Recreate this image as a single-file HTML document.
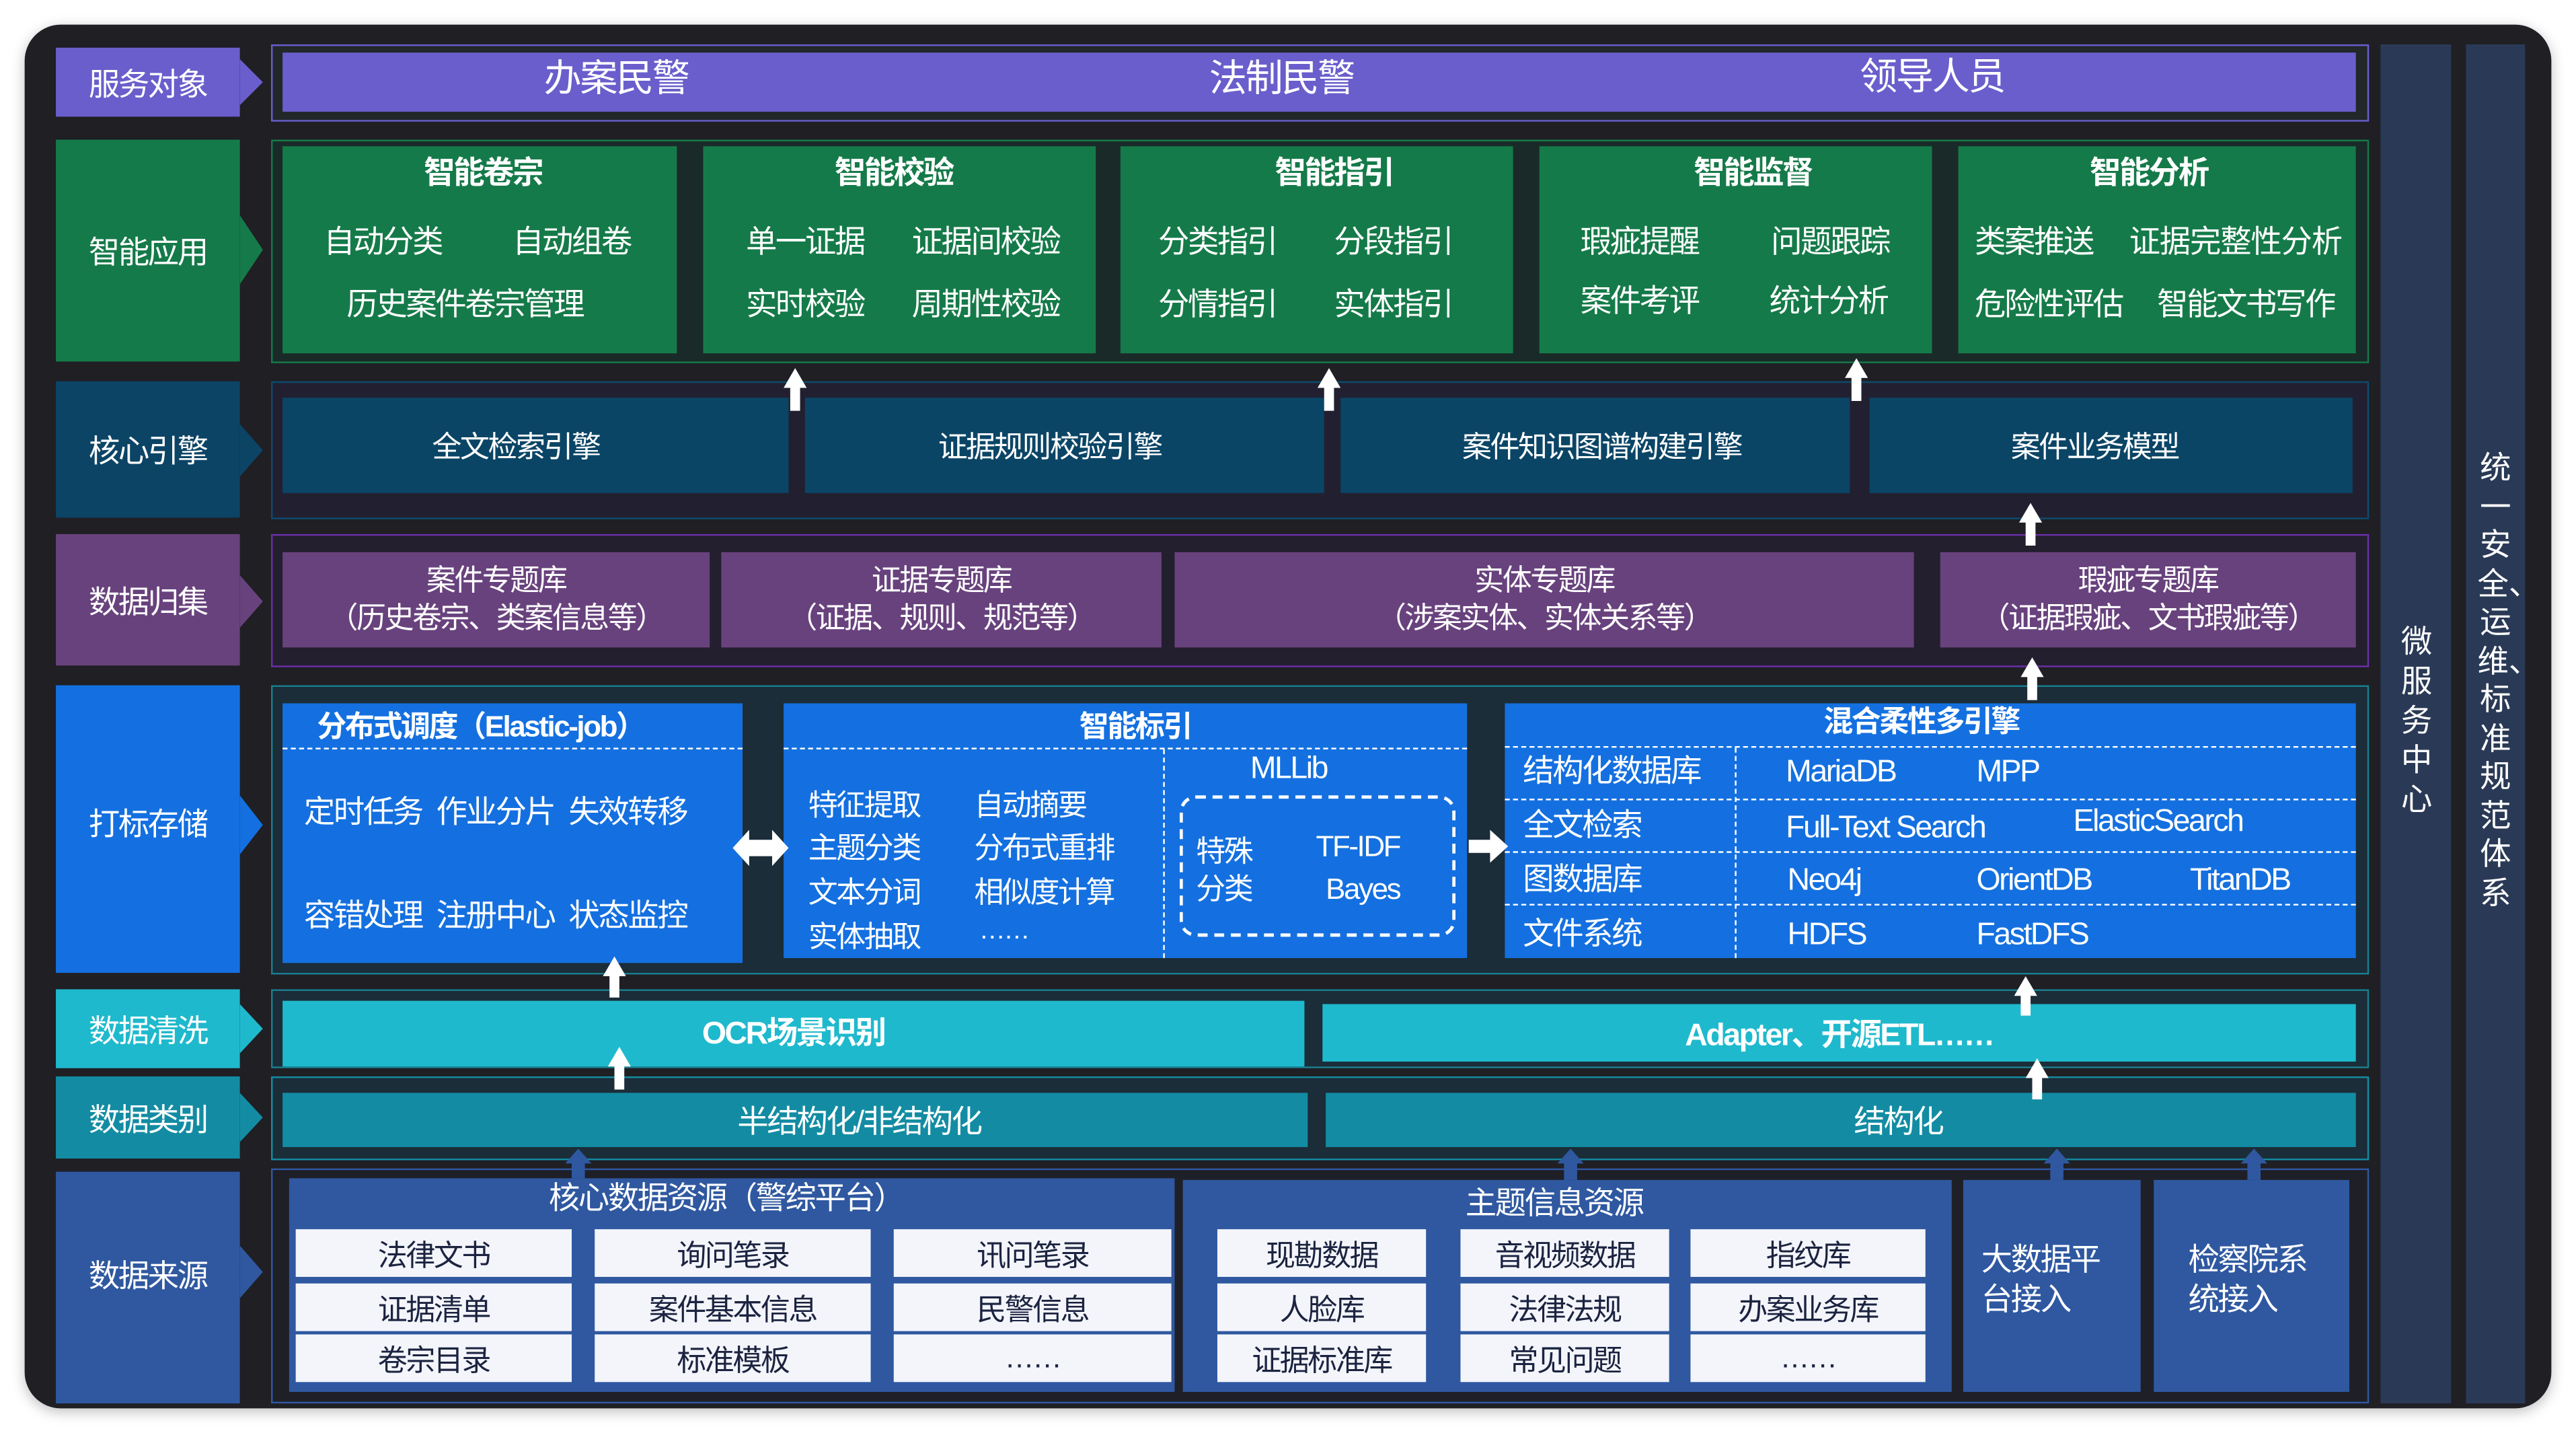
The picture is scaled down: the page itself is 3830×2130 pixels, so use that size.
<!DOCTYPE html>
<html><head><meta charset="utf-8">
<style>
*{margin:0;padding:0;box-sizing:border-box}
html,body{width:3830px;height:2130px;overflow:hidden;background:#fff}
#s{position:absolute;left:0;top:0;width:1568px;height:872px;transform:scale(2.44260,2.44266);transform-origin:0 0;font-family:"Liberation Sans","Noto Sans CJK SC",sans-serif;color:#fff}
.a{position:absolute}
.c{position:absolute;display:flex;align-items:center;justify-content:center;text-align:center;white-space:nowrap;letter-spacing:-1px}
.t{position:absolute;white-space:nowrap;letter-spacing:-1px;line-height:1;transform:translateY(-50%)}
.b{font-weight:bold}
.w{background:#f3f5fa;color:#1b2340;font-size:18px}
</style></head><body><div id="s">
<div class="a" style="left:15px;top:15px;width:1538px;height:842px;background:#1f1f24;border-radius:22px;box-shadow:0 2px 8px rgba(0,0,0,.25)"></div>

<!-- left labels -->
<div class="c" style="left:34px;top:29px;width:112px;height:42px;background:#6a5ecc;font-size:19px">服务对象</div>
<div class="a" style="left:146px;top:36px;width:14px;height:28px;background:#6a5ecc;clip-path:polygon(0 0,100% 50%,0 100%)"></div>
<div class="c" style="left:34px;top:85px;width:112px;height:135px;background:#157a49;font-size:19px">智能应用</div>
<div class="a" style="left:146px;top:131px;width:14px;height:42px;background:#157a49;clip-path:polygon(0 0,100% 50%,0 100%)"></div>
<div class="c" style="left:34px;top:232px;width:112px;height:83px;background:#0c4466;font-size:19px">核心引擎</div>
<div class="a" style="left:146px;top:258px;width:14px;height:32px;background:#0c4466;clip-path:polygon(0 0,100% 50%,0 100%)"></div>
<div class="c" style="left:34px;top:325px;width:112px;height:80px;background:#68427d;font-size:19px">数据归集</div>
<div class="a" style="left:146px;top:350px;width:14px;height:32px;background:#68427d;clip-path:polygon(0 0,100% 50%,0 100%)"></div>
<div class="c" style="left:34px;top:417px;width:112px;height:175px;background:#1470e0;font-size:19px;padding-bottom:8px">打标存储</div>
<div class="a" style="left:146px;top:484px;width:14px;height:36px;background:#1470e0;clip-path:polygon(0 0,100% 50%,0 100%)"></div>
<div class="c" style="left:34px;top:602px;width:112px;height:48px;background:#1fb9cd;font-size:19px">数据清洗</div>
<div class="a" style="left:146px;top:611px;width:14px;height:30px;background:#1fb9cd;clip-path:polygon(0 0,100% 50%,0 100%)"></div>
<div class="c" style="left:34px;top:655px;width:112px;height:50px;background:#138ca3;font-size:19px">数据类别</div>
<div class="a" style="left:146px;top:665px;width:14px;height:30px;background:#138ca3;clip-path:polygon(0 0,100% 50%,0 100%)"></div>
<div class="c" style="left:34px;top:713px;width:112px;height:141px;background:#2f58a0;font-size:19px;padding-bottom:16px">数据来源</div>
<div class="a" style="left:146px;top:758px;width:14px;height:32px;background:#2f58a0;clip-path:polygon(0 0,100% 50%,0 100%)"></div>

<!-- right columns -->
<div class="a" style="left:1449px;top:27px;width:43px;height:827px;background:#2a3a56"></div>
<div class="a" style="left:1501px;top:27px;width:36px;height:827px;background:#2a3a56"></div>
<div class="a" style="left:1460px;top:380px;width:22px;font-size:19px;line-height:24px;text-align:center">微服务中心</div>
<div class="a" style="left:1508px;top:274px;width:22px;font-size:19px;line-height:23.5px;text-align:center">统一安全、运维、标准规范体系</div>

<!-- row1 -->
<div class="a" style="left:165px;top:27px;width:1277px;height:47px;border:1.5px solid #6a5ecc;background:#22272a"></div>
<div class="a" style="left:172px;top:32px;width:1262px;height:36px;background:#6a5ecc"></div>
<div class="t" style="left:331px;top:48px;font-size:23px">办案民警</div>
<div class="t" style="left:736px;top:48px;font-size:23px">法制民警</div>
<div class="t" style="left:1132px;top:47px;font-size:23px">领导人员</div>

<!-- row2 -->
<div class="a" style="left:165px;top:85px;width:1277px;height:136px;border:1.5px solid #157a49;background:#1a2a28"></div>
<div class="a" style="left:172px;top:89px;width:240px;height:126px;background:#157a49"></div>
<div class="a" style="left:428px;top:89px;width:239px;height:126px;background:#157a49"></div>
<div class="a" style="left:682px;top:89px;width:239px;height:126px;background:#157a49"></div>
<div class="a" style="left:937px;top:89px;width:239px;height:126px;background:#157a49"></div>
<div class="a" style="left:1192px;top:89px;width:242px;height:126px;background:#157a49"></div>
<div class="t b" style="left:258px;top:106px;font-size:19px">智能卷宗</div>
<div class="t" style="left:197px;top:148px;font-size:19px">自动分类</div>
<div class="t" style="left:312px;top:148px;font-size:19px">自动组卷</div>
<div class="t" style="left:211px;top:186px;font-size:19px">历史案件卷宗管理</div>
<div class="t b" style="left:508px;top:106px;font-size:19px">智能校验</div>
<div class="t" style="left:454px;top:148px;font-size:19px">单一证据</div>
<div class="t" style="left:555px;top:148px;font-size:19px">证据间校验</div>
<div class="t" style="left:454px;top:186px;font-size:19px">实时校验</div>
<div class="t" style="left:555px;top:186px;font-size:19px">周期性校验</div>
<div class="t b" style="left:776px;top:106px;font-size:19px">智能指引</div>
<div class="t" style="left:705px;top:148px;font-size:19px">分类指引</div>
<div class="t" style="left:812px;top:148px;font-size:19px">分段指引</div>
<div class="t" style="left:705px;top:186px;font-size:19px">分情指引</div>
<div class="t" style="left:812px;top:186px;font-size:19px">实体指引</div>
<div class="t b" style="left:1031px;top:106px;font-size:19px">智能监督</div>
<div class="t" style="left:962px;top:148px;font-size:19px">瑕疵提醒</div>
<div class="t" style="left:1078px;top:148px;font-size:19px">问题跟踪</div>
<div class="t" style="left:962px;top:184px;font-size:19px">案件考评</div>
<div class="t" style="left:1077px;top:184px;font-size:19px">统计分析</div>
<div class="t b" style="left:1272px;top:106px;font-size:19px">智能分析</div>
<div class="t" style="left:1202px;top:148px;font-size:19px">类案推送</div>
<div class="t" style="left:1296px;top:148px;font-size:19px;letter-spacing:-0.5px">证据完整性分析</div>
<div class="t" style="left:1202px;top:186px;font-size:19px">危险性评估</div>
<div class="t" style="left:1313px;top:186px;font-size:19px">智能文书写作</div>

<!-- row3 -->
<div class="a" style="left:165px;top:232px;width:1277px;height:84px;border:1.5px solid #0f4a6e;background:#222030"></div>
<div class="c" style="left:172px;top:242px;width:308px;height:58px;background:#0b4566;font-size:18px;padding-right:24px">全文检索引擎</div>
<div class="c" style="left:490px;top:242px;width:316px;height:58px;background:#0b4566;font-size:18px;padding-right:18px">证据规则校验引擎</div>
<div class="c" style="left:816px;top:242px;width:310px;height:58px;background:#0b4566;font-size:18px;padding-left:8px">案件知识图谱构建引擎</div>
<div class="c" style="left:1138px;top:242px;width:294px;height:58px;background:#0b4566;font-size:18px;padding-right:20px">案件业务模型</div>

<!-- row4 -->
<div class="a" style="left:165px;top:325px;width:1277px;height:81px;border:1.5px solid #6a30a8;background:#231f2e"></div>
<div class="c" style="left:172px;top:336px;width:260px;height:58px;background:#68427d;font-size:18px;line-height:23px">案件专题库<br>（历史卷宗、类案信息等）</div>
<div class="c" style="left:439px;top:336px;width:268px;height:58px;background:#68427d;font-size:18px;line-height:23px">证据专题库<br>（证据、规则、规范等）</div>
<div class="c" style="left:715px;top:336px;width:450px;height:58px;background:#68427d;font-size:18px;line-height:23px">实体专题库<br>（涉案实体、实体关系等）</div>
<div class="c" style="left:1181px;top:336px;width:253px;height:58px;background:#68427d;font-size:18px;line-height:23px">瑕疵专题库<br>（证据瑕疵、文书瑕疵等）</div>

<!-- row5 -->
<div class="a" style="left:165px;top:417px;width:1277px;height:176px;border:1.5px solid #1a7f90;background:#1b2d38"></div>
<div class="a" style="left:172px;top:428px;width:280px;height:158px;background:#1470e0"></div>
<div class="a" style="left:477px;top:428px;width:416px;height:155px;background:#1470e0"></div>
<div class="a" style="left:916px;top:428px;width:518px;height:155px;background:#1470e0"></div>
<div class="a" style="left:172px;top:455px;width:280px;border-top:1.5px dashed #fff"></div>
<div class="a" style="left:477px;top:455px;width:416px;border-top:1.5px dashed #fff"></div>
<div class="a" style="left:708px;top:456px;height:127px;border-left:1px dashed #fff"></div>
<div class="a" style="left:718px;top:484px;width:168px;height:86px;border:2px dashed #fff;border-radius:10px"></div>
<div class="t b" style="left:193px;top:442px;font-size:18px">分布式调度（Elastic-job）</div>
<div class="t" style="left:185px;top:495px;font-size:19px">定时任务&nbsp; 作业分片&nbsp; 失效转移</div>
<div class="t" style="left:185px;top:558px;font-size:19px">容错处理&nbsp; 注册中心&nbsp; 状态监控</div>
<div class="t b" style="left:657px;top:442px;font-size:18px">智能标引</div>
<div class="t" style="left:492px;top:490px;font-size:18px">特征提取</div>
<div class="t" style="left:593px;top:490px;font-size:18px">自动摘要</div>
<div class="t" style="left:492px;top:516px;font-size:18px">主题分类</div>
<div class="t" style="left:593px;top:516px;font-size:18px">分布式重排</div>
<div class="t" style="left:492px;top:543px;font-size:18px">文本分词</div>
<div class="t" style="left:593px;top:543px;font-size:18px">相似度计算</div>
<div class="t" style="left:492px;top:570px;font-size:18px">实体抽取</div>
<div class="t" style="left:596px;top:567px;font-size:16px">……</div>
<div class="t" style="left:761px;top:468px;font-size:19px">MLLib</div>
<div class="t" style="left:728px;top:518px;font-size:18px">特殊</div>
<div class="t" style="left:728px;top:541px;font-size:18px">分类</div>
<div class="t" style="left:801px;top:515px;font-size:18px">TF-IDF</div>
<div class="t" style="left:807px;top:541px;font-size:18px">Bayes</div>
<div class="t b" style="left:1110px;top:439px;font-size:18px">混合柔性多引擎</div>
<div class="a" style="left:916px;top:454px;width:518px;border-top:1.5px dashed #fff"></div>
<div class="a" style="left:916px;top:486px;width:518px;border-top:1.5px dashed #fff"></div>
<div class="a" style="left:916px;top:518px;width:518px;border-top:1.5px dashed #fff"></div>
<div class="a" style="left:916px;top:550px;width:518px;border-top:1.5px dashed #fff"></div>
<div class="a" style="left:1056px;top:455px;height:128px;border-left:1px dashed #fff"></div>
<div class="t" style="left:927px;top:470px;font-size:19px">结构化数据库</div>
<div class="t" style="left:1087px;top:470px;font-size:19px">MariaDB</div>
<div class="t" style="left:1203px;top:470px;font-size:19px">MPP</div>
<div class="t" style="left:927px;top:503px;font-size:19px">全文检索</div>
<div class="t" style="left:1087px;top:504px;font-size:19px">Full-Text Search</div>
<div class="t" style="left:1262px;top:500px;font-size:19px">ElasticSearch</div>
<div class="t" style="left:927px;top:536px;font-size:19px">图数据库</div>
<div class="t" style="left:1088px;top:536px;font-size:19px">Neo4j</div>
<div class="t" style="left:1203px;top:536px;font-size:19px">OrientDB</div>
<div class="t" style="left:1333px;top:536px;font-size:19px">TitanDB</div>
<div class="t" style="left:927px;top:569px;font-size:19px">文件系统</div>
<div class="t" style="left:1088px;top:569px;font-size:19px">HDFS</div>
<div class="t" style="left:1203px;top:569px;font-size:19px">FastDFS</div>

<!-- row6 -->
<div class="a" style="left:165px;top:602px;width:1277px;height:48px;border:1.5px solid #1a7f90;background:#1b2d38"></div>
<div class="c b" style="left:172px;top:609px;width:622px;height:40px;background:#1fb9cd;font-size:19px;padding-bottom:4px">OCR场景识别</div>
<div class="c b" style="left:805px;top:611px;width:629px;height:35px;background:#1fb9cd;font-size:19px">Adapter、开源ETL……</div>

<!-- row7 -->
<div class="a" style="left:165px;top:655px;width:1277px;height:51px;border:1.5px solid #138ca3;background:#1b2d38"></div>
<div class="c" style="left:172px;top:665px;width:624px;height:33px;background:#138ca3;font-size:19px;padding-left:78px">半结构化/非结构化</div>
<div class="c" style="left:807px;top:665px;width:627px;height:33px;background:#138ca3;font-size:19px;padding-left:70px">结构化</div>

<!-- row8 -->
<div class="a" style="left:165px;top:711px;width:1277px;height:143px;border:1.5px solid #2f58a0;background:#1f1f28"></div>
<div class="a" style="left:176px;top:717px;width:539px;height:130px;background:#2f58a0"></div>
<div class="a" style="left:720px;top:718px;width:468px;height:129px;background:#2f58a0"></div>
<div class="a" style="left:1195px;top:718px;width:108px;height:129px;background:#2f58a0"></div>
<div class="a" style="left:1311px;top:718px;width:119px;height:129px;background:#2f58a0"></div>
<div class="t" style="left:334px;top:730px;font-size:19px">核心数据资源（警综平台）</div>
<div class="t" style="left:892px;top:733px;font-size:19px">主题信息资源</div>
<div class="t" style="left:1206px;top:780px;font-size:19px;line-height:24px;transform:translateY(-50%)">大数据平<br>台接入</div>
<div class="t" style="left:1332px;top:780px;font-size:19px;line-height:24px;transform:translateY(-50%)">检察院系<br>统接入</div>
<div class="c w" style="left:180px;top:748px;width:168px;height:29px">法律文书</div>
<div class="c w" style="left:362px;top:748px;width:168px;height:29px">询问笔录</div>
<div class="c w" style="left:544px;top:748px;width:169px;height:29px">讯问笔录</div>
<div class="c w" style="left:180px;top:781px;width:168px;height:29px">证据清单</div>
<div class="c w" style="left:362px;top:781px;width:168px;height:29px">案件基本信息</div>
<div class="c w" style="left:544px;top:781px;width:169px;height:29px">民警信息</div>
<div class="c w" style="left:180px;top:812px;width:168px;height:29px">卷宗目录</div>
<div class="c w" style="left:362px;top:812px;width:168px;height:29px">标准模板</div>
<div class="c w" style="left:544px;top:812px;width:169px;height:29px">……</div>
<div class="c w" style="left:741px;top:748px;width:127px;height:29px">现勘数据</div>
<div class="c w" style="left:889px;top:748px;width:127px;height:29px">音视频数据</div>
<div class="c w" style="left:1029px;top:748px;width:143px;height:29px">指纹库</div>
<div class="c w" style="left:741px;top:781px;width:127px;height:29px">人脸库</div>
<div class="c w" style="left:889px;top:781px;width:127px;height:29px">法律法规</div>
<div class="c w" style="left:1029px;top:781px;width:143px;height:29px">办案业务库</div>
<div class="c w" style="left:741px;top:812px;width:127px;height:29px">证据标准库</div>
<div class="c w" style="left:889px;top:812px;width:127px;height:29px">常见问题</div>
<div class="c w" style="left:1029px;top:812px;width:143px;height:29px">……</div>

<!-- arrows -->
<svg class="a" style="left:0;top:0" width="1568" height="872" viewBox="0 0 1568 872">
<g fill="#fff">
<polygon points="484,224 491,236 487,236 487,250 481,250 481,236 477,236"/>
<polygon points="809,224 816,236 812,236 812,250 806,250 806,236 802,236"/>
<polygon points="1130,218 1137,230 1133,230 1133,244 1127,244 1127,230 1123,230"/>
<polygon points="1236,306 1243,318 1239,318 1239,332 1233,332 1233,318 1229,318"/>
<polygon points="1237,400 1244,412 1240,412 1240,426 1234,426 1234,412 1230,412"/>
<polygon points="374,582 381,594 377,594 377,607 371,607 371,594 367,594"/>
<polygon points="1233,594 1240,606 1236,606 1236,618 1230,618 1230,606 1226,606"/>
<polygon points="377,637 384,649 380,649 380,663 374,663 374,649 370,649"/>
<polygon points="1240,644 1247,656 1243,656 1243,669 1237,669 1237,656 1233,656"/>
<polygon points="446,516 456,505 456,511 470,511 470,505 480,516 470,527 470,521 456,521 456,527"/>
<polygon points="894,511 907,511 907,505 918,515 907,525 907,519 894,519"/>
</g>
<g fill="#2f58a0">
<polygon points="352,699 360,708 356,708 356,717 348,717 348,708 344,708"/>
<polygon points="956,699 964,708 960,708 960,718 952,718 952,708 948,708"/>
<polygon points="1252,699 1260,708 1256,708 1256,718 1248,718 1248,708 1244,708"/>
<polygon points="1372,699 1380,708 1376,708 1376,718 1368,718 1368,708 1364,708"/>
</g>
</svg>
</div></body></html>
